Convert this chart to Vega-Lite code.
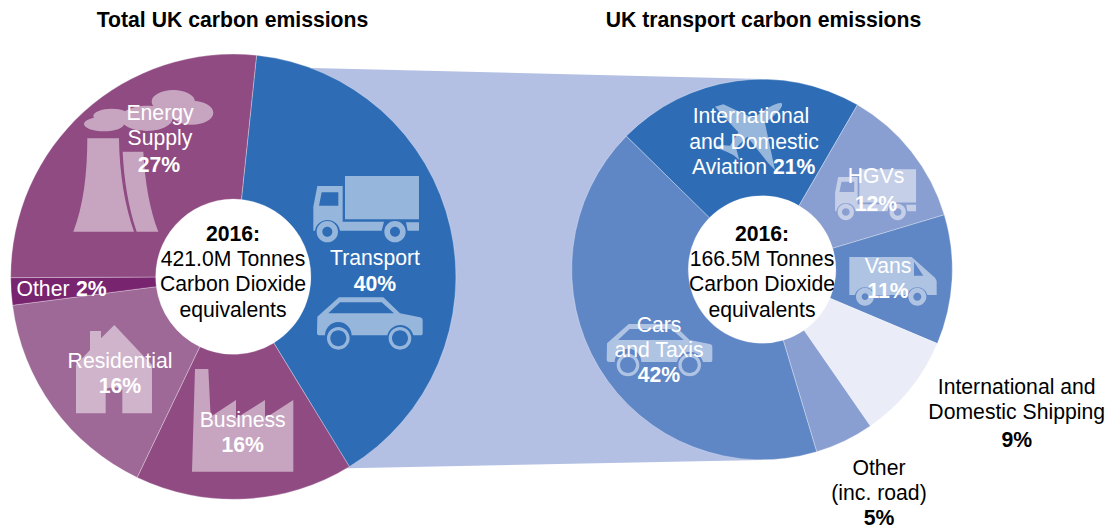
{
"$schema":"https://vega.github.io/schema/vega-lite/v6.json",
"width":1115,"height":531,"autosize":{"type":"fit","contains":"padding"},"padding":0,
"background":"white",
"config":{"view":{"stroke":null},"axis":{"disable":true},"text":{"font":"Liberation Sans","fontSize":21.2,"lineHeight":25.8,"lineBreak":"\n","align":"center","baseline":"middle","color":"white"},
"point":{"filled":true,"color":"white","opacity":0.5,"strokeWidth":0}},
"datasets":{
"total":[{"sector":"Transport","share":40,"seq":1},{"sector":"Business","share":16,"seq":2},{"sector":"Residential","share":16,"seq":3},{"sector":"Other","share":2,"seq":4},{"sector":"Energy Supply","share":27,"seq":5}],
"transport":[{"mode":"International and Domestic Aviation","share":21,"seq":1},{"mode":"HGVs","share":12,"seq":2},{"mode":"Vans","share":11,"seq":3},{"mode":"International and Domestic Shipping","share":9,"seq":4},{"mode":"Other (inc. road)","share":5,"seq":5},{"mode":"Cars and Taxis","share":42,"seq":6}]
},
"resolve":{"scale":{"color":"independent","theta":"independent"}},
"layer":[
{"data":{"values":[{"along":312,"top":67.9,"bottom":469},{"along":762,"top":79,"bottom":460}]},
 "mark":{"type":"area","color":"#B3C0E4"},
 "encoding":{"x":{"field":"along","type":"quantitative","scale":{"domain":[0,1115],"nice":false,"zero":false}},"y":{"field":"top","type":"quantitative","scale":{"domain":[0,531],"nice":false,"zero":false,"reverse":true}},"y2":{"field":"bottom"}}},
{"data":{"values":[{"disc":"Transport"}]},"mark":{"type":"arc","radius":73.8,"theta":0,"theta2":6.2832,"fill":"white"},"encoding":{"x":{"datum":762},"y":{"datum":269.5}}},
{"data":{"name":"total"},"mark":{"type":"arc","radius":222.6,"radius2":77.6,"stroke":"white","strokeWidth":0.6,"strokeOpacity":0.5},
 "encoding":{"x":{"datum":233.3},"y":{"datum":276.7},
  "theta":{"field":"share","type":"quantitative","stack":true,"scale":{"domain":[0,101],"range":[0.1047,6.3879]}},
  "order":{"field":"seq","type":"quantitative"},
  "color":{"field":"sector","type":"nominal","legend":null,"scale":{"domain":["Transport","Business","Residential","Other","Energy Supply"],"range":["#2E6DB6","#8F4B82","#9E6897","#78246F","#8F4B82"]}}}},
{"data":{"name":"transport"},"mark":{"type":"arc","radius":190.3,"radius2":73.8,"stroke":"white","strokeWidth":0.6,"strokeOpacity":0.5},
 "encoding":{"x":{"datum":762},"y":{"datum":269.5},
  "theta":{"field":"share","type":"quantitative","stack":true,"scale":{"domain":[0,100],"range":[-0.794,5.489]}},
  "order":{"field":"seq","type":"quantitative"},
  "color":{"field":"mode","type":"nominal","legend":null,"scale":{"domain":["International and Domestic Aviation","HGVs","Vans","International and Domestic Shipping","Other (inc. road)","Cars and Taxis"],"range":["#2E6DB6","#8A9FD1","#5F86C5","#EAEDF8","#8A9FD1","#5F86C5"]}}}},

{"data":{"values":[{"icon":"power station"}]},"mark":{"type":"point","size":0.4444,"shape":"M262 295L357 295C358 400 375 500 402 575L220 575C250 500 262 400 262 295ZM368 335L430 335C435 430 450 510 475 575L410 575C385 500 372 420 368 335ZM252 252A60 22 0 1 1 372 252A60 22 0 1 1 252 252ZM280 228A55 22 0 1 1 390 228A55 22 0 1 1 280 228ZM362 235A78 38 0 1 1 518 235A78 38 0 1 1 362 235ZM455 185A65 35 0 1 1 585 185A65 35 0 1 1 455 185ZM510 218A65 36 0 1 1 640 218A65 36 0 1 1 510 218Z"},"encoding":{"x":{"datum":0},"y":{"datum":40}}},
{"data":{"values":[{"icon":"truck"}]},"mark":{"type":"point","size":0.4444,"shape":"M315 378L537 378L537 508L315 508ZM232 408L308 408L308 515L432 515L425 542L300 542A38 38 0 0 0 225 542L220 542L220 470ZM245 427L237 467L295 467L295 427ZM498 517L537 517L537 542L503 542ZM230 545A32 32 0 1 1 294 545A32 32 0 1 1 230 545ZM247 545A15 15 0 1 0 277 545A15 15 0 1 0 247 545ZM433 545A32 32 0 1 1 497 545A32 32 0 1 1 433 545ZM450 545A15 15 0 1 0 480 545A15 15 0 1 0 450 545Z"},"encoding":{"x":{"datum":240},"y":{"datum":50}}},
{"data":{"values":[{"icon":"car"}]},"mark":{"type":"point","size":0.4444,"shape":"M232 800L297 742L430 742L480 790L540 802C548 804 548 808 548 815L548 850C548 855 545 856 540 856L520 856A40 40 0 0 0 442 856L335 856A40 40 0 0 0 255 856L240 856C233 856 231 854 231 848ZM265 790L462 790L425 757L300 757ZM261 865A34 34 0 1 1 329 865A34 34 0 1 1 261 865ZM271 865A24 24 0 1 0 319 865A24 24 0 1 0 271 865ZM446 865A34 34 0 1 1 514 865A34 34 0 1 1 446 865ZM456 865A24 24 0 1 0 504 865A24 24 0 1 0 456 865Z"},"encoding":{"x":{"datum":240},"y":{"datum":50}}},
{"data":{"values":[{"icon":"house"}]},"mark":{"type":"point","size":0.4444,"shape":"M343 165L456 285L456 430L367 430L367 360C367 350 317 350 317 360L317 430L228 430L228 285L270 240L270 183L303 183L303 205Z"},"encoding":{"x":{"datum":0},"y":{"datum":270}}},
{"data":{"values":[{"icon":"factory"}]},"mark":{"type":"point","size":0.4444,"shape":"M585 297L625 297L632 440L708 390L708 445L795 390L795 445L880 390L880 605L576 605Z"},"encoding":{"x":{"datum":0},"y":{"datum":270}}},
{"data":{"values":[{"icon":"plane"}]},"mark":{"type":"point","size":0.4444,"shape":"M275 25C282 35 262 55 225 85L255 225L235 205L172 125L138 158L148 195L130 180L110 170L72 155L92 150L120 152L145 112L75 35L100 28L190 70C225 42 262 20 275 25Z"},"encoding":{"x":{"datum":690},"y":{"datum":95}}},
{"data":{"values":[{"icon":"hgv"}]},"mark":{"type":"point","size":0.261,"shape":"M315 378L537 378L537 508L315 508ZM232 408L308 408L308 515L432 515L425 542L300 542A38 38 0 0 0 225 542L220 542L220 470ZM245 427L237 467L295 467L295 427ZM498 517L537 517L537 542L503 542ZM230 545A32 32 0 1 1 294 545A32 32 0 1 1 230 545ZM247 545A15 15 0 1 0 277 545A15 15 0 1 0 247 545ZM433 545A32 32 0 1 1 497 545A32 32 0 1 1 433 545ZM450 545A15 15 0 1 0 480 545A15 15 0 1 0 450 545Z"},"encoding":{"x":{"datum":778.9},"y":{"datum":72.8}}},
{"data":{"values":[{"icon":"van"}]},"mark":{"type":"point","size":0.4444,"shape":"M28 36L215 36L285 98L290 108L290 150L262 150A31 31 0 0 0 202 150L105 150A31 31 0 0 0 45 150L28 150ZM222 50L222 92L250 92ZM48 155A27 27 0 1 1 102 155A27 27 0 1 1 48 155ZM65 155A10 10 0 1 0 85 155A10 10 0 1 0 65 155ZM205 155A27 27 0 1 1 259 155A27 27 0 1 1 205 155ZM220 155A12 12 0 1 0 244 155A12 12 0 1 0 220 155Z"},"encoding":{"x":{"datum":840},"y":{"datum":245}}},
{"data":{"values":[{"icon":"taxi"}]},"mark":{"type":"point","size":0.4444,"shape":"M232 800L297 742L430 742L480 790L540 802C548 804 548 808 548 815L548 850C548 855 545 856 540 856L520 856A40 40 0 0 0 442 856L335 856A40 40 0 0 0 255 856L240 856C233 856 231 854 231 848ZM265 790L462 790L425 757L300 757ZM261 865A34 34 0 1 1 329 865A34 34 0 1 1 261 865ZM271 865A24 24 0 1 0 319 865A24 24 0 1 0 271 865ZM446 865A34 34 0 1 1 514 865A34 34 0 1 1 446 865ZM456 865A24 24 0 1 0 504 865A24 24 0 1 0 456 865Z"},"encoding":{"x":{"datum":529.7},"y":{"datum":76.7}}},

{"data":{"values":[{"t":"Total UK carbon emissions"}]},"mark":{"type":"text","fontWeight":"bold","color":"black"},"encoding":{"x":{"datum":232.5},"y":{"datum":20.5},"text":{"field":"t"}}},
{"data":{"values":[{"t":"UK transport carbon emissions"}]},"mark":{"type":"text","fontWeight":"bold","color":"black"},"encoding":{"x":{"datum":763.5},"y":{"datum":20.5},"text":{"field":"t"}}},
{"data":{"values":[{"t":"Energy\nSupply"}]},"mark":{"type":"text"},"encoding":{"x":{"datum":160},"y":{"datum":113.5},"text":{"field":"t"}}},
{"data":{"values":[{"t":"27%"}]},"mark":{"type":"text","fontWeight":"bold"},"encoding":{"x":{"datum":159},"y":{"datum":165.5},"text":{"field":"t"}}},
{"data":{"values":[{"t":"Transport"}]},"mark":{"type":"text"},"encoding":{"x":{"datum":375},"y":{"datum":258.5},"text":{"field":"t"}}},
{"data":{"values":[{"t":"40%"}]},"mark":{"type":"text","fontWeight":"bold"},"encoding":{"x":{"datum":375},"y":{"datum":284.5},"text":{"field":"t"}}},
{"data":{"values":[{"t":"Business"}]},"mark":{"type":"text"},"encoding":{"x":{"datum":242.7},"y":{"datum":420.5},"text":{"field":"t"}}},
{"data":{"values":[{"t":"16%"}]},"mark":{"type":"text","fontWeight":"bold"},"encoding":{"x":{"datum":242.7},"y":{"datum":446.2},"text":{"field":"t"}}},
{"data":{"values":[{"t":"Residential"}]},"mark":{"type":"text"},"encoding":{"x":{"datum":120},"y":{"datum":362.2},"text":{"field":"t"}}},
{"data":{"values":[{"t":"16%"}]},"mark":{"type":"text","fontWeight":"bold"},"encoding":{"x":{"datum":120},"y":{"datum":387.2},"text":{"field":"t"}}},
{"data":{"values":[{"t":"Other"}]},"mark":{"type":"text","align":"left"},"encoding":{"x":{"datum":16.5},"y":{"datum":289.5},"text":{"field":"t"}}},
{"data":{"values":[{"t":"2%"}]},"mark":{"type":"text","align":"left","fontWeight":"bold"},"encoding":{"x":{"datum":76},"y":{"datum":289.5},"text":{"field":"t"}}},
{"data":{"values":[{"t":"2016:"}]},"mark":{"type":"text","fontWeight":"bold","color":"black"},"encoding":{"x":{"datum":233},"y":{"datum":234.5},"text":{"field":"t"}}},
{"data":{"values":[{"t":"421.0M Tonnes\nCarbon Dioxide\nequivalents"}]},"mark":{"type":"text","color":"black"},"encoding":{"x":{"datum":233},"y":{"datum":259.5},"text":{"field":"t"}}},
{"data":{"values":[{"t":"International"}]},"mark":{"type":"text"},"encoding":{"x":{"datum":751},"y":{"datum":117.2},"text":{"field":"t"}}},
{"data":{"values":[{"t":"and Domestic"}]},"mark":{"type":"text"},"encoding":{"x":{"datum":754},"y":{"datum":142.5},"text":{"field":"t"}}},
{"data":{"values":[{"t":"Aviation"}]},"mark":{"type":"text","align":"right"},"encoding":{"x":{"datum":767},"y":{"datum":167.5},"text":{"field":"t"}}},
{"data":{"values":[{"t":"21%"}]},"mark":{"type":"text","align":"left","fontWeight":"bold"},"encoding":{"x":{"datum":773},"y":{"datum":167.5},"text":{"field":"t"}}},
{"data":{"values":[{"t":"HGVs"}]},"mark":{"type":"text"},"encoding":{"x":{"datum":876},"y":{"datum":177.2},"text":{"field":"t"}}},
{"data":{"values":[{"t":"12%"}]},"mark":{"type":"text","fontWeight":"bold"},"encoding":{"x":{"datum":876},"y":{"datum":204.5},"text":{"field":"t"}}},
{"data":{"values":[{"t":"Vans"}]},"mark":{"type":"text"},"encoding":{"x":{"datum":888},"y":{"datum":266.5},"text":{"field":"t"}}},
{"data":{"values":[{"t":"11%"}]},"mark":{"type":"text","fontWeight":"bold"},"encoding":{"x":{"datum":888},"y":{"datum":292.2},"text":{"field":"t"}}},
{"data":{"values":[{"t":"Cars\nand Taxis"}]},"mark":{"type":"text"},"encoding":{"x":{"datum":659},"y":{"datum":325.5},"text":{"field":"t"}}},
{"data":{"values":[{"t":"42%"}]},"mark":{"type":"text","fontWeight":"bold"},"encoding":{"x":{"datum":659},"y":{"datum":376.2},"text":{"field":"t"}}},
{"data":{"values":[{"t":"2016:"}]},"mark":{"type":"text","fontWeight":"bold","color":"black"},"encoding":{"x":{"datum":762},"y":{"datum":234.5},"text":{"field":"t"}}},
{"data":{"values":[{"t":"166.5M Tonnes\nCarbon Dioxide\nequivalents"}]},"mark":{"type":"text","color":"black"},"encoding":{"x":{"datum":762},"y":{"datum":259.5},"text":{"field":"t"}}},
{"data":{"values":[{"t":"International and\nDomestic Shipping"}]},"mark":{"type":"text","color":"black"},"encoding":{"x":{"datum":1016.7},"y":{"datum":387.5},"text":{"field":"t"}}},
{"data":{"values":[{"t":"9%"}]},"mark":{"type":"text","fontWeight":"bold","color":"black"},"encoding":{"x":{"datum":1016.7},"y":{"datum":440.5},"text":{"field":"t"}}},
{"data":{"values":[{"t":"Other\n(inc. road)"}]},"mark":{"type":"text","color":"black"},"encoding":{"x":{"datum":879},"y":{"datum":468.5},"text":{"field":"t"}}},
{"data":{"values":[{"t":"5%"}]},"mark":{"type":"text","fontWeight":"bold","color":"black"},"encoding":{"x":{"datum":879},"y":{"datum":519},"text":{"field":"t"}}}
]}
